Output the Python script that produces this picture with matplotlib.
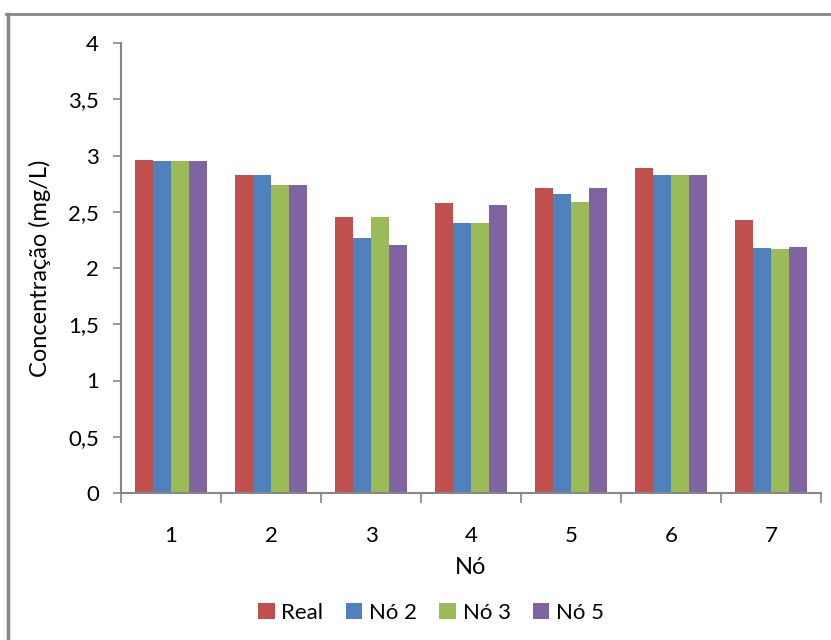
import matplotlib
matplotlib.use("Agg")
import matplotlib.pyplot as plt
from matplotlib.lines import Line2D
import numpy as np

plt.rcParams['font.family'] = ['Lato', 'DejaVu Sans']

nodes = ["1", "2", "3", "4", "5", "6", "7"]
real = [2.96, 2.83, 2.45, 2.58, 2.71, 2.89, 2.43]
no2 = [2.95, 2.83, 2.27, 2.40, 2.66, 2.83, 2.18]
no3 = [2.95, 2.74, 2.45, 2.40, 2.59, 2.83, 2.17]
no5 = [2.95, 2.74, 2.20, 2.56, 2.71, 2.83, 2.19]

series = [("Real", real, "#C0504D"),
          ("Nó 2", no2, "#4F81BD"),
          ("Nó 3", no3, "#9BBB59"),
          ("Nó 5", no5, "#8064A2")]

W, H = 831, 640
fig = plt.figure(figsize=(W / 100, H / 100), dpi=100)
ax = fig.add_axes([121 / W, 1 - 493 / H, 700 / W, 450 / H])

x = np.arange(1, len(nodes) + 1)
bw = 0.182
for i, (name, vals, col) in enumerate(series):
    ax.bar(x + (i - 1.5) * bw, vals, width=bw, color=col, label=name)

ax.set_xlim(0.5, len(nodes) + 0.5)
ax.set_ylim(0, 4)
ax.set_yticks(np.arange(0, 4.01, 0.5))
ax.set_yticklabels(["0", "0,5", "1", "1,5", "2", "2,5", "3", "3,5", "4"])
ax.set_xticks(x)
ax.set_xticklabels(nodes)
ax.set_xticks(np.arange(0.5, len(nodes) + 1.0, 1.0), minor=True)
ax.tick_params(axis='x', which='major', length=0, pad=24, labelsize=16)
ax.tick_params(axis='x', which='minor', length=7, width=1.2, color="#868686")
ax.tick_params(axis='y', length=6, width=1.2, color="#868686", pad=10, labelsize=16)

for s in ("top", "right"):
    ax.spines[s].set_visible(False)
for s in ("left", "bottom"):
    ax.spines[s].set_color("#868686")
    ax.spines[s].set_linewidth(1.5)

ax.set_xlabel("Nó", fontsize=17, labelpad=8)
ax.set_ylabel("Concentração (mg/L)", fontsize=17, labelpad=12)

leg = ax.legend(loc="upper center", bbox_to_anchor=(0.443, -0.2), ncol=4,
                frameon=False, fontsize=16, handlelength=0.75, handleheight=0.75,
                handletextpad=0.3, columnspacing=1.0)

# outer chart frame
fig.add_artist(Line2D([6 / W, 831 / W], [1 - 14 / H, 1 - 14 / H],
                      color="#868686", lw=2, transform=fig.transFigure))
fig.add_artist(Line2D([8 / W, 8 / W], [1 - 14 / H, 0],
                      color="#868686", lw=2.5, transform=fig.transFigure))

fig.savefig("out.png", dpi=100)
